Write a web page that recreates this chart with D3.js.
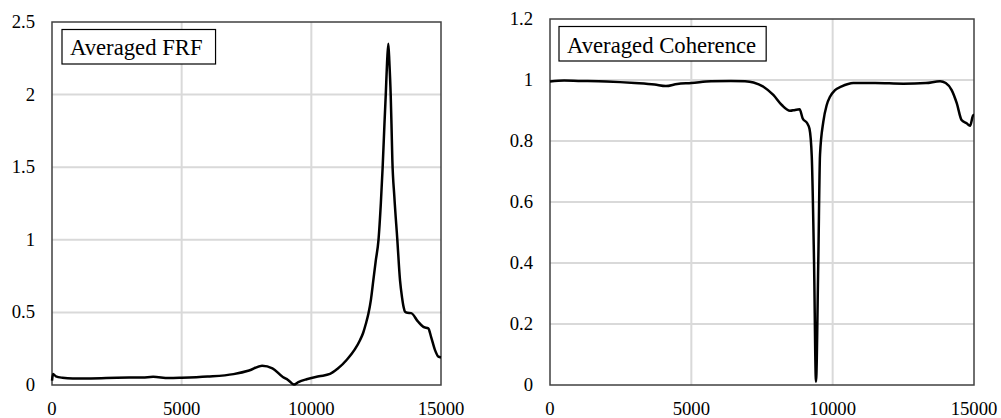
<!DOCTYPE html>
<html>
<head>
<meta charset="utf-8">
<script src="https://cdn.jsdelivr.net/npm/d3@7"></script>
<style>
    body { margin: 0; background: #fff; }
    svg { display: block; font-family: "Liberation Serif", "Times New Roman", serif; }
</style>
</head>
<body>
<svg id="chart" width="1001" height="418"></svg>
<script>
// frequency axis ticks, shared by both panels
let freqTicks = [0, 5000, 10000, 15000];

// averaged FRF
let frfFreq = [0, 40, 150, 400, 800, 1500, 2500, 3500, 3900, 4500, 5000, 6000, 7000, 7600, 8100, 8500,
    8900, 9100, 9330, 9500, 9820, 10300, 10720, 11000, 11360, 11880, 12000, 12100, 12200, 12300, 12390,
    12480, 12590, 12680, 12750, 12820, 12870, 12920, 12969, 13010, 13060, 13090, 13124, 13200, 13316,
    13420, 13500, 13560, 13610, 13700, 13850, 14100, 14320, 14510, 14620, 14770, 14900, 15000];
let frfValue = [0.03, 0.075, 0.06, 0.05, 0.045, 0.045, 0.05, 0.052, 0.056, 0.048, 0.05, 0.058, 0.075, 0.10, 0.133, 0.115,
    0.055, 0.035, 0.003, 0.02, 0.04, 0.06, 0.076, 0.11, 0.172, 0.31, 0.36, 0.42, 0.49, 0.59, 0.72,
    0.85, 1.0, 1.25, 1.5, 1.8, 2.0, 2.22, 2.35, 2.22, 2.0, 1.8, 1.55, 1.3, 1.0,
    0.72, 0.6, 0.535, 0.505, 0.497, 0.495, 0.44, 0.40, 0.39, 0.33, 0.24, 0.195, 0.19];
let frfTicks = [0, 0.5, 1, 1.5, 2, 2.5];

// averaged coherence
let cohFreq = [0, 500, 1000, 2000, 3000, 3700, 4100, 4500, 5000, 5700, 6400, 6900, 7200, 7550, 7900, 8200,
    8490, 8670, 8830, 8940, 9100, 9180, 9260, 9340, 9410, 9492, 9552, 9669, 9790, 9906, 10083, 10300,
    10730, 11500, 12500, 13300, 13800, 14000, 14210, 14390, 14560, 14740, 14860, 14976, 15000];
let cohValue = [0.995, 0.998, 0.997, 0.995, 0.99, 0.985, 0.98, 0.987, 0.99, 0.996, 0.997, 0.996, 0.992, 0.978, 0.951, 0.918,
    0.899, 0.902, 0.904, 0.874, 0.858, 0.84, 0.75, 0.41, 0.011, 0.41, 0.754, 0.863, 0.918, 0.945, 0.967, 0.978,
    0.99, 0.99, 0.988, 0.99, 0.996, 0.99, 0.967, 0.924, 0.869, 0.858, 0.85, 0.885, 0.885];
let cohTicks = [0, 0.2, 0.4, 0.6, 0.8, 1, 1.2];

let svg = d3.select('#chart');

/** Draws one framed panel with grid, axis labels, a boxed title and the curve.
 * @param {Object} p - placement, domain and data of the panel
 */
function drawPanel(p) {
    let x = d3.scaleLinear().domain([0, 15000]).range([p.left, p.right]);
    let y = d3.scaleLinear().domain([0, p.yMax]).range([p.bottom, p.top]);
    let g = svg.append('g');

    // light grid, skipping lines that sit on the frame
    g.selectAll('.vgrid').data(freqTicks.slice(1, -1)).enter().append('line')
        .attr('x1', d => x(d)).attr('x2', d => x(d))
        .attr('y1', p.top).attr('y2', p.bottom)
        .attr('stroke', '#d9d9d9').attr('stroke-width', 2);
    g.selectAll('.hgrid').data(p.yTicks.slice(1, -1)).enter().append('line')
        .attr('x1', p.left).attr('x2', p.right)
        .attr('y1', d => y(d)).attr('y2', d => y(d))
        .attr('stroke', '#d9d9d9').attr('stroke-width', 2);

    // plot frame
    g.append('rect')
        .attr('x', p.left).attr('y', p.top)
        .attr('width', p.right - p.left).attr('height', p.bottom - p.top)
        .attr('fill', 'none').attr('stroke', '#404040').attr('stroke-width', 1.5);

    // tick labels
    g.selectAll('.ylab').data(p.yTicks).enter().append('text')
        .attr('x', p.left - 17).attr('y', d => y(d) + 6)
        .attr('text-anchor', 'end').attr('font-size', '18.7px').attr('fill', '#000')
        .text(d => d);
    g.selectAll('.xlab').data(freqTicks).enter().append('text')
        .attr('x', d => x(d)).attr('y', 415)
        .attr('text-anchor', 'middle').attr('font-size', '18.7px').attr('fill', '#000')
        .text(d => d);

    // the measured curve
    let line = d3.line()
        .x(d => x(d[0]))
        .y(d => y(d[1]))
        .curve(d3.curveMonotoneX);
    g.append('path')
        .datum(d3.zip(p.freq, p.value))
        .attr('d', line)
        .attr('fill', 'none').attr('stroke', '#000')
        .attr('stroke-width', 2.5).attr('stroke-linejoin', 'round');

    // boxed title in the upper left corner
    let title = g.append('text')
        .attr('x', p.left + p.titleDx).attr('y', p.top + p.titleDy)
        .attr('font-size', '22.7px').attr('fill', '#000')
        .text(p.title);
    let bb = title.node().getBBox();
    g.insert('rect', 'text')
        .attr('x', bb.x - 8).attr('y', p.top + 7.5)
        .attr('width', bb.width + p.titlePad).attr('height', 34.5)
        .attr('fill', '#fff').attr('stroke', '#000').attr('stroke-width', 1.2);
    title.raise();
}

drawPanel({
    left: 52, right: 441, top: 22, bottom: 385,
    yMax: 2.5, yTicks: frfTicks,
    freq: frfFreq, value: frfValue,
    title: 'Averaged FRF', titleDx: 18, titleDy: 32.5, titlePad: 21
});

drawPanel({
    left: 550, right: 974, top: 19, bottom: 385,
    yMax: 1.2, yTicks: cohTicks,
    freq: cohFreq, value: cohValue,
    title: 'Averaged Coherence', titleDx: 17, titleDy: 33.5, titlePad: 18
});
</script>
</body>
</html>
